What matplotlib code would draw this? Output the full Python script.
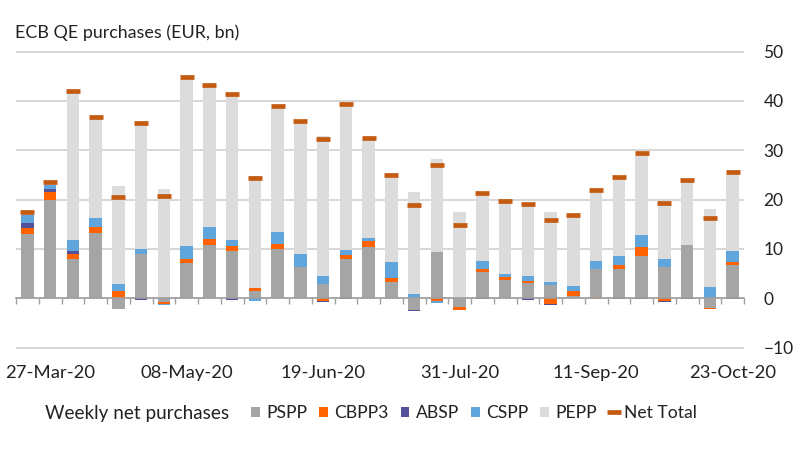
import numpy as np
import pandas as pd
import matplotlib
matplotlib.use("Agg")
import matplotlib.pyplot as plt

plt.rcParams['font.family'] = ['Lato', 'DejaVu Sans']

# weekly dates (Fridays)
dates = pd.date_range("2020-03-20", periods=32, freq="7D")
date_labels = [d.strftime("%d-%b-%y") for d in dates]

# weekly net purchases, EUR bn
pspp = [13.0, 19.9, 8.0, 13.3, -2.1, 8.9, -0.7, 7.1, 10.8, 9.6, 1.4, 9.9,
        6.3, 2.8, 8.0, 10.3, 3.2, -2.4, 9.3, -1.8, 5.3, 3.7, 3.0, 2.7,
        0.5, 6.0, 6.0, 8.6, 6.3, 10.7, -2.0, 6.8]
cbpp3 = [1.2, 1.7, 1.0, 1.2, 1.5, 0.0, -0.4, 0.9, 1.2, 0.9, 0.7, 1.1,
         0.1, -0.6, 0.7, 1.3, 0.9, 0.0, -0.5, -0.5, 0.7, 0.5, 0.5, -1.2,
         0.9, -0.1, 0.7, 1.7, -0.6, 0.0, -0.15, 0.5]
absp = [1.0, 0.5, 0.5, 0.0, -0.15, -0.3, 0.0, 0.0, 0.0, -0.3, 0.0, 0.0,
        0.0, -0.15, -0.2, 0.0, 0.0, -0.15, -0.1, -0.1, -0.1, 0.0, -0.3, -0.1,
        0.0, 0.0, -0.1, -0.1, -0.1, -0.1, 0.0, -0.1]
cspp = [1.7, 0.9, 2.2, 1.7, 1.4, 1.0, -0.3, 2.6, 2.4, 1.2, -0.6, 2.4,
        2.6, 1.8, 1.0, 0.7, 3.3, 0.8, -0.35, 0.0, 1.6, 0.7, 0.9, 0.5,
        1.0, 1.6, 1.8, 2.6, 1.7, 0.0, 2.2, 2.2]
pepp = [0.5, 0.5, 30.1, 20.1, 19.9, 25.4, 22.1, 33.9, 28.5, 29.3, 22.6, 25.2,
        26.6, 28.3, 30.0, 19.8, 17.3, 20.7, 18.9, 17.4, 13.5, 14.6, 14.3, 14.2,
        14.2, 13.9, 15.6, 16.2, 10.8, 12.9, 15.8, 15.5]
net_total = [17.4, 23.5, 42.0, 36.7, 20.5, 35.5, 20.7, 44.8, 43.2, 41.4, 24.3, 38.9,
             36.0, 32.3, 39.4, 32.4, 25.0, 18.8, 27.0, 14.9, 21.4, 19.7, 19.0, 15.9,
             16.8, 22.0, 24.6, 29.5, 19.3, 24.0, 16.2, 25.5]

series = [
    ("PSPP", pspp, "#A5A5A5"),
    ("CBPP3", cbpp3, "#FF6200"),
    ("ABSP", absp, "#525199"),
    ("CSPP", cspp, "#60A5DC"),
    ("PEPP", pepp, "#DCDCDC"),
]

fig = plt.figure(figsize=(8, 4.5), dpi=100)
ax = fig.add_axes([0.02, 0.2244, 0.91, 0.6644])

x = np.arange(len(dates))
pos_base = np.zeros(len(x))
neg_base = np.zeros(len(x))
handles = []
for name, vals, color in series:
    vals = np.array(vals)
    bottom = np.where(vals >= 0, pos_base, neg_base)
    b = ax.bar(x, vals, width=0.54, bottom=bottom, color=color, label=name, zorder=2)
    handles.append(b)
    pos_base += np.clip(vals, 0, None)
    neg_base += np.clip(vals, None, 0)

net_line, = ax.plot(x, net_total, ls="none", marker="_", ms=10, mew=3.4,
                    color="#C55A11", label="Net Total", zorder=3)
handles.append(net_line)

ax.set_xlim(-0.5, len(x) - 0.5)
ax.set_ylim(-10.3, 50.3)

# right hand value axis, no ticks
ax.yaxis.tick_right()
ax.set_yticks(range(-10, 51, 10))
ax.tick_params(axis="y", length=0, pad=14, labelsize=12.5, colors="#222222")
ax.grid(axis="y", color="#D4D4D4", lw=1.3, zorder=0)
ax.set_axisbelow(True)

for side in ["top", "left", "right"]:
    ax.spines[side].set_visible(False)
ax.spines["bottom"].set_position(("data", 0))
ax.spines["bottom"].set_color("#A0A0A0")
ax.spines["bottom"].set_linewidth(1.2)

# category labels at the bottom, tick marks between bars on the zero line
ax.set_xticks(x[1::6])
ax.set_xticklabels(date_labels[1::6])
ax.set_xticks(np.arange(-0.5, len(x), 1), minor=True)
ax.tick_params(axis="x", which="major", length=0, pad=48, labelsize=13.3, colors="#222222")
ax.tick_params(axis="x", which="minor", length=4.3, width=1.0, color="#A0A0A0")

fig.text(15 / 800, 1 - 33 / 450, "ECB QE purchases (EUR, bn)", fontsize=12.9,
         va="center", ha="left", color="#222222")

fig.text(45 / 800, 1 - 413 / 450, "Weekly net purchases", fontsize=13.6,
         va="center", ha="left", color="#222222")
fig.legend(handles, [s[0] for s in series] + ["Net Total"], loc="center left",
           bbox_to_anchor=(251 / 800, 1 - 413 / 450), ncol=6, frameon=False,
           fontsize=12.6, handlelength=0.5, handleheight=0.5, handletextpad=0.35,
           columnspacing=0.7, borderaxespad=0, borderpad=0, labelcolor="#222222")

fig.savefig("out.png", dpi=100)
